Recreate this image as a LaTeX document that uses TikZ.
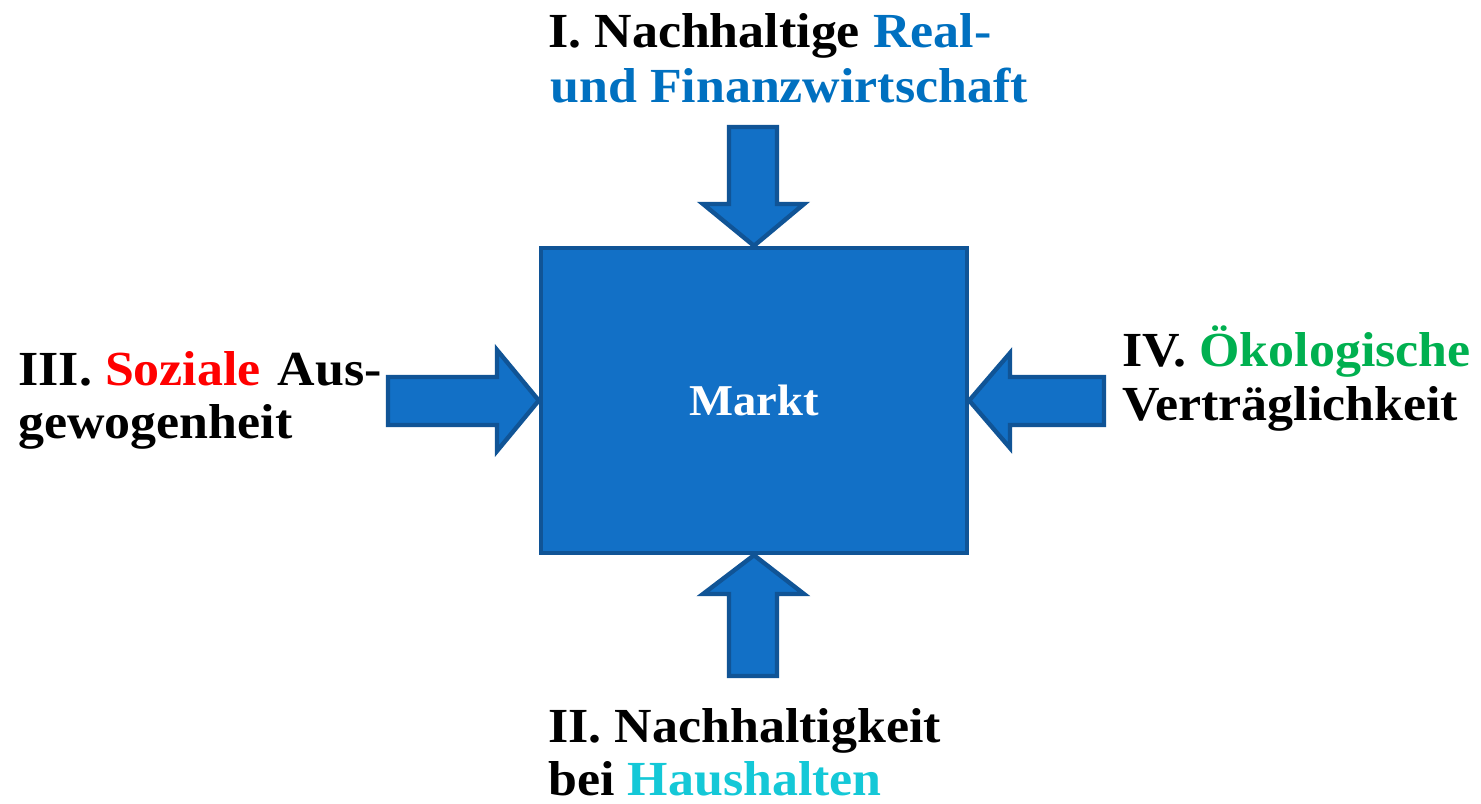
\documentclass[tikz,border=0pt]{standalone}
\usepackage{fontspec}
\setmainfont{Liberation Serif}[FakeStretch=1.06]
\definecolor{boxfill}{RGB}{18,112,198}
\definecolor{boxline}{RGB}{16,84,150}
\definecolor{tblue}{RGB}{0,112,192}
\definecolor{tred}{RGB}{255,0,0}
\definecolor{tgreen}{RGB}{0,176,80}
\definecolor{tcyan}{RGB}{20,200,215}
\tikzset{
  blockarrow/.style={fill=boxfill,draw=boxline,line width=2.2pt,line join=miter},
  lbl/.style={anchor=base west,inner sep=0pt,font=\fontsize{24.5}{27.5}\selectfont\bfseries},
  marktbox/.style={rectangle,fill=boxfill,draw=boxline,line width=2.2pt,
    minimum width=213pt,minimum height=152.5pt,inner sep=0pt,
    text=white,font=\fontsize{22}{26}\selectfont\bfseries}
}
\begin{document}
\begin{tikzpicture}[x=0.5pt,y=-0.5pt]
\useasboundingbox (0,0) rectangle (1481,803);
\fill[white] (0,0) rectangle (1481,803);
% central box
\node[marktbox] (markt) at (754,400.5) {Markt};
% arrows
\draw[blockarrow] (729,127) -- (777,127) -- (777,204) -- (804,204) -- (markt.north) -- (703,204) -- (729,204) -- cycle;
\draw[blockarrow] (markt.south) -- (804,594) -- (777,594) -- (777,676) -- (729,676) -- (729,594) -- (703,594) -- cycle;
\draw[blockarrow] (388,377) -- (497,377) -- (497,350) -- (markt.west) -- (497,451) -- (497,425) -- (388,425) -- cycle;
\draw[blockarrow] (markt.east) -- (1010,353) -- (1010,377) -- (1104,377) -- (1104,425) -- (1010,425) -- (1010,448) -- cycle;
% labels
\node[lbl] (top1) at (548,47) {I. Nachhaltige \textcolor{tblue}{Real-}};
\node[lbl] (top2) at (550,102) {\textcolor{tblue}{und Finanzwirtschaft}};
\node[lbl] (left1) at (18,385) {III. \textcolor{tred}{Soziale}\hspace{8.5pt}Aus-};
\node[lbl] (left2) at (18,438) {gewogenheit};
\node[lbl] (right1) at (1122,366) {IV. \textcolor{tgreen}{Ökologische}};
\node[lbl] (right2) at (1122,420) {Verträglichkeit};
\node[lbl] (bot1) at (548,742) {II. Nachhaltigkeit};
\node[lbl] (bot2) at (548,795) {bei \textcolor{tcyan}{Haushalten}};
\end{tikzpicture}
\end{document}
